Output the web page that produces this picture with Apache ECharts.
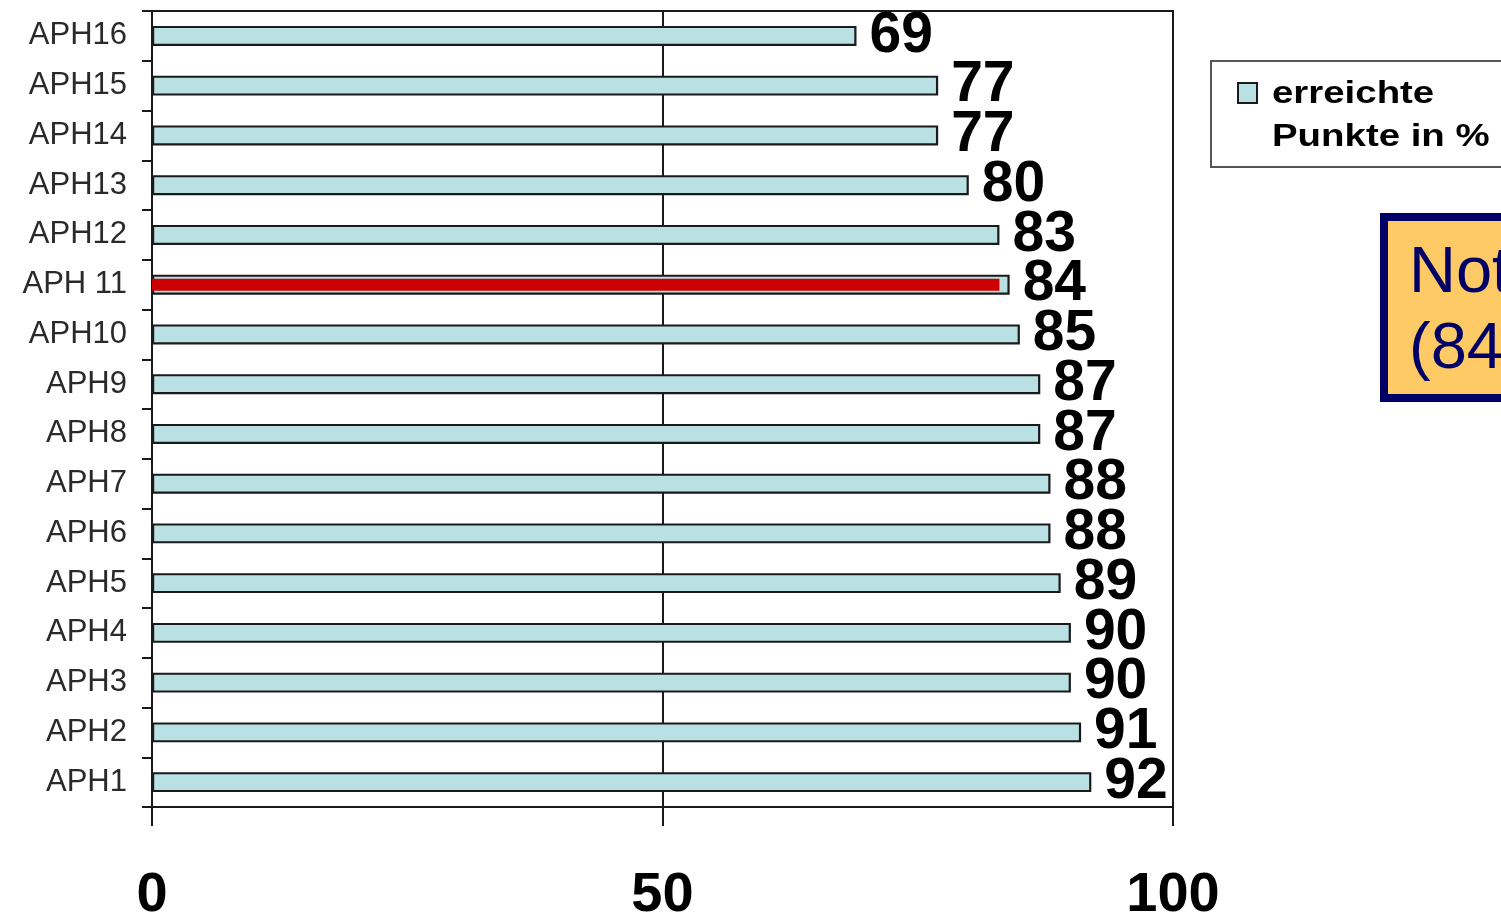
<!DOCTYPE html>
<html>
<head>
<meta charset="utf-8">
<title>erreichte Punkte in %</title>
<script src="https://cdn.jsdelivr.net/npm/echarts@6/dist/echarts.min.js"></script>
<style>
  html, body { margin: 0; padding: 0; background: #ffffff; }
  #chart { width: 1501px; height: 913px; }
</style>
</head>
<body>
<div id="chart"></div>
<script>
// Categories from bottom (APH1) to top (APH16)
const categories = ['APH1', 'APH2', 'APH3', 'APH4', 'APH5', 'APH6', 'APH7', 'APH8',
  'APH9', 'APH10', 'APH 11', 'APH12', 'APH13', 'APH14', 'APH15', 'APH16'];
// Achieved points in percent
const points = [92, 91, 90, 90, 89, 88, 88, 87, 87, 85, 84, 83, 80, 77, 77, 69];
// Inner red marker for the highlighted row (APH 11)
const highlight = ['-', '-', '-', '-', '-', '-', '-', '-', '-', '-', 83, '-', '-', '-', '-', '-'];
const xTicks = [0, 50, 100];
const legendLines = ['erreichte', 'Punkte in %'];
const noteLines = ['Note 2', '(84 %)'];

const chart = echarts.init(document.getElementById('chart'), null, { renderer: 'canvas' });

const ink = '#1a1a1a';
const cyan = '#b9e0e2';

chart.setOption({
  backgroundColor: '#ffffff',
  animation: false,
  grid: {
    left: 152, right: 328, top: 11, bottom: 106,
    outerBoundsMode: 'none',
    show: true, borderColor: ink, borderWidth: 2, backgroundColor: 'transparent'
  },
  xAxis: {
    type: 'value',
    min: xTicks[0], max: xTicks[xTicks.length - 1], interval: 50,
    axisLine: { show: true, lineStyle: { color: ink, width: 2 } },
    axisTick: { show: true, length: 19, lineStyle: { color: ink, width: 2 } },
    splitLine: { show: true, lineStyle: { color: ink, width: 2 } },
    axisLabel: {
      margin: 61, fontSize: 56, fontWeight: 'bold',
      fontFamily: 'Liberation Sans', color: '#000'
    }
  },
  yAxis: [{
    type: 'category',
    data: categories,
    axisLine: { show: true, lineStyle: { color: ink, width: 2 } },
    axisTick: { show: true, length: 10, lineStyle: { color: ink, width: 2 } },
    axisLabel: {
      margin: 25, fontSize: 31, fontFamily: 'Liberation Sans', color: '#2a2a2a'
    },
    splitLine: { show: false }
  }, {
    type: 'category',
    data: categories,
    show: false
  }],
  series: [{
    name: 'erreichte Punkte in %',
    type: 'bar',
    yAxisIndex: 0,
    data: points,
    barWidth: 20,
    itemStyle: { color: cyan, borderColor: ink, borderWidth: 2.2 },
    label: {
      show: true, position: 'right', distance: 13,
      fontSize: 57, fontWeight: 'bold', fontFamily: 'Liberation Sans', color: '#000'
    },
    z: 3
  }, {
    name: 'APH 11',
    type: 'bar',
    yAxisIndex: 1,
    data: highlight,
    barWidth: 12,
    itemStyle: { color: '#cc0000' },
    z: 4
  }],
  graphic: [
    // legend box
    {
      type: 'rect', left: 1210, top: 60,
      shape: { width: 330, height: 106 },
      style: { fill: '#ffffff', stroke: '#555555', lineWidth: 2 }
    },
    {
      type: 'rect', left: 1237, top: 82,
      shape: { width: 19, height: 20 },
      style: { fill: cyan, stroke: ink, lineWidth: 2 }
    },
    {
      type: 'text', x: 1272, y: 94, scaleX: 1.2,
      style: {
        text: legendLines[0], fill: '#000', fontSize: 32, fontWeight: 'bold',
        fontFamily: 'Liberation Sans', verticalAlign: 'middle'
      }
    },
    {
      type: 'text', x: 1272, y: 137, scaleX: 1.2,
      style: {
        text: legendLines[1], fill: '#000', fontSize: 32, fontWeight: 'bold',
        fontFamily: 'Liberation Sans', verticalAlign: 'middle'
      }
    },
    // grade box
    {
      type: 'rect', left: 1380, top: 213,
      shape: { x: 0, y: 0, width: 300, height: 181 },
      style: { fill: '#fdca66', stroke: '#000066', lineWidth: 8 }
    },
    {
      type: 'text', x: 1409, y: 274,
      style: {
        text: noteLines[0], fill: '#000066', fontSize: 65,
        fontFamily: 'Liberation Sans', verticalAlign: 'middle'
      }
    },
    {
      type: 'text', x: 1409, y: 350,
      style: {
        text: noteLines[1], fill: '#000066', fontSize: 65,
        fontFamily: 'Liberation Sans', verticalAlign: 'middle'
      }
    }
  ]
});
</script>
</body>
</html>
